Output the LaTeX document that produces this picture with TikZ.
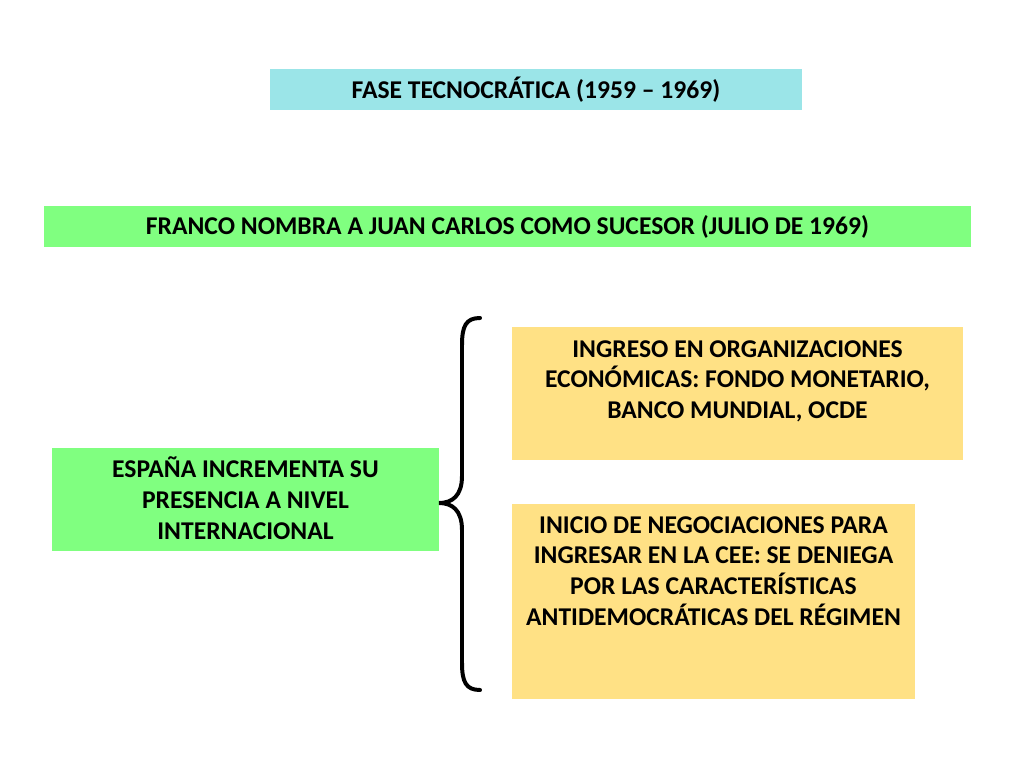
\documentclass[tikz,border=0pt]{standalone}
\usepackage{fontspec}
\setmainfont{Carlito}
\definecolor{cyanbox}{HTML}{9BE5E8}
\definecolor{greenbox}{HTML}{80FF80}
\definecolor{yellowbox}{HTML}{FFE185}
\begin{document}
\begin{tikzpicture}[x=0.703125pt,y=-0.703125pt,
  txt/.style={font=\fontsize{18}{21.6}\selectfont\bfseries,align=center,inner sep=0pt}]
\useasboundingbox (0,0) rectangle (1024,768);
\fill[white] (0,0) rectangle (1024,768);
% boxes
\fill[cyanbox] (270,69) rectangle (802,110);
\node[txt] (fase) at (536,90) {FASE TECNOCRÁTICA (1959 – 1969)};
\fill[greenbox] (44,206) rectangle (971,247);
\node[txt] (franco) at (507.5,227) {FRANCO NOMBRA A JUAN CARLOS COMO SUCESOR (JULIO DE 1969)};
\fill[greenbox] (52,448) rectangle (439,551);
\node[txt] (espana) at (245.5,498) {ESPAÑA INCREMENTA SU\\PRESENCIA A NIVEL\\INTERNACIONAL};
\fill[yellowbox] (512,327) rectangle (963,460);
\node[txt,anchor=north] (ingreso) at (737.5,340) {INGRESO EN ORGANIZACIONES\\ECONÓMICAS: FONDO MONETARIO,\\BANCO MUNDIAL, OCDE};
\fill[yellowbox] (512,504) rectangle (915,699);
\node[txt,anchor=north] (inicio) at (713.5,516) {INICIO DE NEGOCIACIONES PARA\\INGRESAR EN LA CEE: SE DENIEGA\\POR LAS CARACTERÍSTICAS\\ANTIDEMOCRÁTICAS DEL RÉGIMEN};
% brace
\coordinate (btop) at (480,318);
\coordinate (btip) at (439,503);
\coordinate (bbot) at (480,690);
\draw[line width=2.8pt,line cap=round]
  (btop) .. controls (466,318) and (462,326) .. (462,345)
  -- (462,476) .. controls (462,496) and (452,503) .. (btip)
  .. controls (452,503) and (462,510) .. (462,530)
  -- (462,663) .. controls (462,682) and (466,690) .. (bbot);
\end{tikzpicture}
\end{document}
